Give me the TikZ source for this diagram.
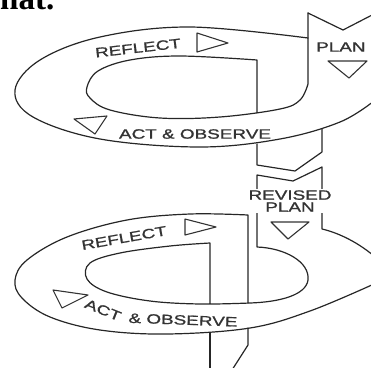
\documentclass[tikz,border=0pt]{standalone}
\usepackage{fontspec}
\newfontfamily\labfont[FakeStretch=1.4,FakeBold=1.2]{Liberation Sans}
\newfontfamily\serfont{Liberation Serif}
\begin{document}
\begin{tikzpicture}[x=1pt,y=-1pt,
  ln/.style={draw=black!85, line width=1.2pt, line join=round, line cap=round},
  tri/.style={draw=black!80, line width=1.1pt, line join=round},
  lab/.style={font=\labfont\fontsize{13.5}{12}\selectfont, text=black!80, inner sep=0pt}]
\useasboundingbox (0,0) rectangle (371,367);
\clip (0,0) rectangle (371,367);

% cropped text fragment at the top
\node[anchor=base west, font=\serfont\bfseries\fontsize{33}{33}\selectfont, inner sep=0pt] (frag) at (0,9) {hat.};

% ---------- upper loop ----------
% outer edge of ring
\draw[ln] plot[smooth, tension=0.6] coordinates {(308,38) (190,27) (100,37) (40,60) (15,90) (33,117) (100,139) (200,147) (280,139) (340,122) (374,101)};
% plan band left edge into inner edge of ring, then down
\draw[ln] (308,13) -- (308,84) -- plot[smooth, tension=0.6] coordinates {(308,84) (300,100) (280,109) (220,117) (160,118) (110,110) (90,98) (87,87) (98,71) (130,60) (180,56) (257,60)} -- (257,113);
% plan band notch
\draw[ln] (308,13) -- (343,30) -- (374,14);
% descending band end
\draw[ln] (322,129) -- (322,152) -- (295,171) -- (257,165) -- (257,144);

% ---------- revised plan band and lower loop ----------
\draw[ln] (374,256) .. controls (355,240) and (335,232) .. (322,229) -- (322,167) -- (293,181) -- (257,175) -- (257,247)
  .. controls (285,248) and (310,262) .. (308,280)
  .. controls (306,295) and (280,302) .. (250,303)
  -- plot[smooth, tension=0.6] coordinates {(250,303) (200,304) (150,301) (107,292) (87,279) (90,263) (120,253) (170,246) (210,243)} -- (210,304);
% lower outer edge
\draw[ln] (248,303) -- plot[smooth, tension=0.6] coordinates {(248,215) (190,214) (127,220) (67,237) (27,260) (15,280) (22,298) (50,317) (100,330) (167,334) (250,328) (310,311) (374,284)};
% lower descending band
\draw[ln] (210,333) -- (210,370);
\draw[ln] (248,328) -- (248,345) -- (232,370);

% ---------- arrow triangles ----------
\draw[tri] (197,33) -- (228,43) -- (197,52) -- cycle;
\draw[tri] (328,61) -- (367,61) -- (349,78) -- cycle;
\draw[tri] (74,119) -- (107,116) -- (95,134) -- cycle;
\draw[tri] (271,222) -- (309,222) -- (288,239) -- cycle;
\draw[tri] (185,219) -- (216,227) -- (185,235) -- cycle;
\draw[tri] (53,290) -- (88,295) -- (62,308) -- cycle;

% ---------- labels ----------
\node[lab, rotate=6.5] (refl1) at (138,48) {REFLECT};
\node[lab] (act1) at (195,134) {ACT \& OBSERVE};
\node[lab, anchor=west] (plan1) at (316,47) {PLAN};
\node[lab, fill=white, align=center, inner sep=1pt] (rev) at (290,201) {REVISED\\PLAN};
\node[lab, rotate=10] (refl2) at (124,238) {REFLECT};
\node[lab, rotate=-22] (act2) at (103,310) {ACT};
\node[lab, rotate=-2] (obs2) at (183,320) {\& OBSERVE};
\end{tikzpicture}
\end{document}
